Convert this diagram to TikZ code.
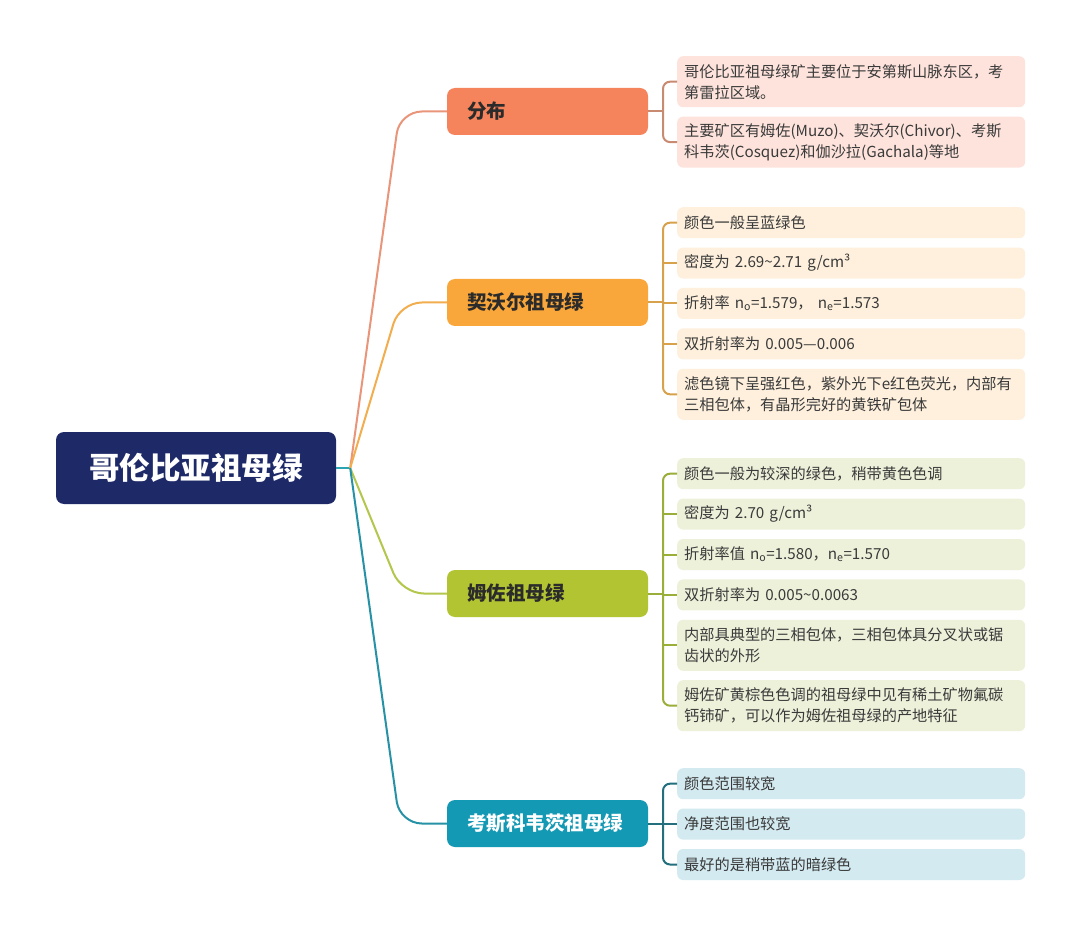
\documentclass[tikz,border=0pt]{standalone}
\usepackage{fontspec}
\setmainfont{Noto Sans CJK SC}
\usetikzlibrary{positioning}
\definecolor{rootblue}{HTML}{1E2A68}
\definecolor{hubteal}{HTML}{2AA3B3}
\definecolor{fenbufill}{HTML}{F5845C}
\definecolor{fenbuline}{HTML}{E8957A}
\definecolor{fenbubrace}{HTML}{C98A72}
\definecolor{fenbuleaf}{HTML}{FDE3DB}
\definecolor{chivorfill}{HTML}{F9A63A}
\definecolor{chivorline}{HTML}{F2AE4E}
\definecolor{chivorbrace}{HTML}{D8A24C}
\definecolor{chivorleaf}{HTML}{FEF0DD}
\definecolor{muzofill}{HTML}{B2C432}
\definecolor{muzoline}{HTML}{B5C64C}
\definecolor{muzobrace}{HTML}{9AAF3A}
\definecolor{muzoleaf}{HTML}{EEF1DA}
\definecolor{cosquezfill}{HTML}{1499B4}
\definecolor{cosquezline}{HTML}{2791A5}
\definecolor{cosquezbrace}{HTML}{246F7E}
\definecolor{cosquezleaf}{HTML}{D3EAF0}
\definecolor{branchtext}{HTML}{2B2B2B}
\definecolor{leaftext}{HTML}{3A3A3A}
\tikzstyle{root} = [fill=rootblue, rounded corners=8pt, text=white,
    minimum width=280pt, minimum height=72pt,
    font=\fontsize{30.5}{36}\selectfont\bfseries]
\tikzstyle{branch} = [rounded corners=8pt, text=branchtext, align=left,
    text width=161pt, inner xsep=20pt, minimum height=47pt,
    font=\fontsize{19.5}{24}\selectfont\bfseries]
\tikzstyle{leaf} = [rounded corners=6pt, text=leaftext, align=left,
    text width=334pt, inner xsep=7pt, inner ysep=0pt, minimum height=31pt,
    font=\fontsize{15.2}{21}\selectfont]
\tikzstyle{leaftwo} = [leaf, minimum height=51pt]
\tikzstyle{wire} = [line width=2pt, rounded corners=22pt]
\tikzstyle{brace} = [line width=2pt, rounded corners=7pt]

\begin{document}
\begin{tikzpicture}[x=1pt, y=1pt, node distance=9pt]
      \useasboundingbox[fill=white] (0,0) rectangle (1080,-936);
      % We start by placing the root and the branches
      \node[root] at (196,-468) (emerald) {哥伦比亚祖母绿};
      \coordinate[right=14pt of emerald] (hub);
      \node[branch, fill=fenbufill] at (547.5,-111.5) (fen_bu) {分布};
      \node[branch, fill=chivorfill] at (547.5,-302.5) (chivor) {契沃尔祖母绿};
      \node[branch, fill=muzofill] at (547.5,-593.5) (muzo) {姆佐祖母绿};
      \node[branch, fill=cosquezfill, text=white] at (547.5,-823.5) (cosquez) {考斯科韦茨祖母绿};

      % leaves of each branch, stacked one below the other
      \node[leaftwo, fill=fenbuleaf, anchor=north west] at (677,-56) (fen_bu_1) {哥伦比亚祖母绿矿主要位于安第斯山脉东区，考\\第雷拉区域。};
      \node[leaftwo, fill=fenbuleaf, below=of fen_bu_1] (fen_bu_2) {主要矿区有姆佐(Muzo)、契沃尔(Chivor)、考斯\\科韦茨(Cosquez)和伽沙拉(Gachala)等地};

      \node[leaf, fill=chivorleaf, anchor=north west] at (677,-207) (chivor_1) {颜色一般呈蓝绿色};
      \node[leaf, fill=chivorleaf, below=of chivor_1] (chivor_2) {密度为 2.69\textasciitilde2.71 g/cm³};
      \node[leaf, fill=chivorleaf, below=of chivor_2] (chivor_3) {折射率 n\textsubscript{o}=1.579，\ n\textsubscript{e}=1.573};
      \node[leaf, fill=chivorleaf, below=of chivor_3] (chivor_4) {双折射率为 0.005—0.006};
      \node[leaftwo, fill=chivorleaf, below=of chivor_4] (chivor_5) {滤色镜下呈强红色，紫外光下e红色荧光，内部有\\三相包体，有晶形完好的黄铁矿包体};

      \node[leaf, fill=muzoleaf, anchor=north west] at (677,-458) (muzo_1) {颜色一般为较深的绿色，稍带黄色色调};
      \node[leaf, fill=muzoleaf, below=of muzo_1] (muzo_2) {密度为 2.70 g/cm³};
      \node[leaf, fill=muzoleaf, below=of muzo_2] (muzo_3) {折射率值 n\textsubscript{o}=1.580，n\textsubscript{e}=1.570};
      \node[leaf, fill=muzoleaf, below=of muzo_3] (muzo_4) {双折射率为 0.005\textasciitilde0.0063};
      \node[leaftwo, fill=muzoleaf, below=of muzo_4] (muzo_5) {内部具典型的三相包体，三相包体具分叉状或锯\\齿状的外形};
      \node[leaftwo, fill=muzoleaf, below=of muzo_5] (muzo_6) {姆佐矿黄棕色色调的祖母绿中见有稀土矿物氟碳\\钙铈矿，可以作为姆佐祖母绿的产地特征};

      \node[leaf, fill=cosquezleaf, anchor=north west] at (677,-768) (cosquez_1) {颜色范围较宽};
      \node[leaf, fill=cosquezleaf, below=of cosquez_1] (cosquez_2) {净度范围也较宽};
      \node[leaf, fill=cosquezleaf, below=of cosquez_2] (cosquez_3) {最好的是稍带蓝的暗绿色};

      % root to branches
      \draw[wire, hubteal] (emerald) -- (hub);
      \draw[wire, fenbuline] (hub) -- ([xshift=-47pt]fen_bu.west) -- (fen_bu);
      \draw[wire, chivorline] (hub) -- ([xshift=-47pt]chivor.west) -- (chivor);
      \draw[wire, muzoline] (hub) -- ([xshift=-45pt]muzo.west) -- (muzo);
      \draw[wire, cosquezline] (hub) -- ([xshift=-47pt]cosquez.west) -- (cosquez);

      % brackets from the branches to their leaves
      \draw[brace, fenbubrace] (fen_bu) -- ++(115.5,0);
      \draw[brace, fenbubrace] (fen_bu_1.west) -- ++(-14,0) |- (fen_bu_2.west);

      \draw[brace, chivorbrace] (chivor) -- ++(115.5,0);
      \draw[brace, chivorbrace] (chivor_1.west) -- ++(-14,0) |- (chivor_5.west);
      \draw[brace, chivorbrace] (chivor_2.west) -- ++(-14,0);
      \draw[brace, chivorbrace] (chivor_3.west) -- ++(-14,0);
      \draw[brace, chivorbrace] (chivor_4.west) -- ++(-14,0);

      \draw[brace, muzobrace] (muzo) -- ++(115.5,0);
      \draw[brace, muzobrace] (muzo_1.west) -- ++(-14,0) |- (muzo_6.west);
      \draw[brace, muzobrace] (muzo_2.west) -- ++(-14,0);
      \draw[brace, muzobrace] (muzo_3.west) -- ++(-14,0);
      \draw[brace, muzobrace] (muzo_4.west) -- ++(-14,0);
      \draw[brace, muzobrace] (muzo_5.west) -- ++(-14,0);

      \draw[brace, cosquezbrace] (cosquez) -- ++(115.5,0);
      \draw[brace, cosquezbrace] (cosquez_1.west) -- ++(-14,0) |- (cosquez_3.west);
      \draw[brace, cosquezbrace] (cosquez_2.west) -- ++(-14,0);
\end{tikzpicture}
\end{document}
